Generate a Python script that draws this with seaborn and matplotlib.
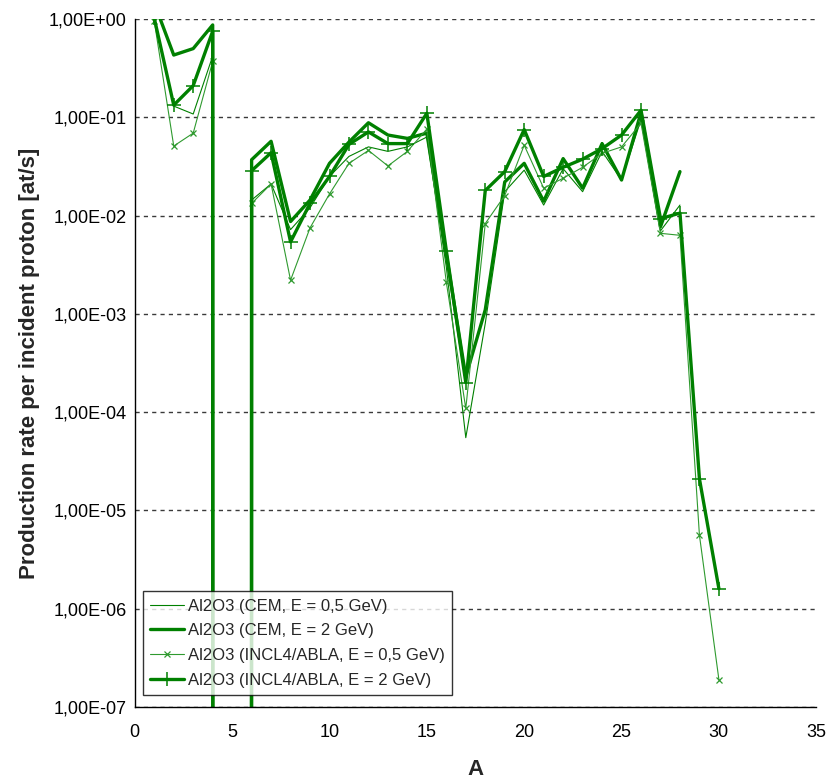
import numpy as np
import pandas as pd
import matplotlib
matplotlib.use("Agg")
import matplotlib.pyplot as plt
import seaborn as sns
from matplotlib.ticker import FixedLocator, FuncFormatter, NullLocator

# ---- data ----
A_cem = list(range(1, 29))
A_incl = list(range(1, 31))

cem_05 = [1.0, 0.13, 0.108, 0.42, 0, 0.0144, 0.021, 0.0072, 0.012, 0.025,
          0.040, 0.050, 0.045, 0.050, 0.063, 0.003, 5.5e-5, 0.0008, 0.0175, 0.029,
          0.0128, 0.030, 0.0175, 0.045, 0.023, 0.095, 0.007, 0.0128]
cem_2 = [1.45, 0.43, 0.50, 0.87, 0, 0.037, 0.057, 0.0087, 0.0144, 0.034,
         0.056, 0.088, 0.066, 0.061, 0.069, 0.004, 0.00023, 0.0011, 0.022, 0.034,
         0.014, 0.038, 0.019, 0.054, 0.023, 0.112, 0.0077, 0.028]
incl_05 = [0.95, 0.051, 0.069, 0.37, 0, 0.0133, 0.021, 0.0022, 0.0075, 0.0166,
           0.034, 0.046, 0.032, 0.045, 0.076, 0.0021, 0.000109, 0.0083, 0.016, 0.052,
           0.019, 0.024, 0.031, 0.043, 0.050, 0.087, 0.0066, 0.0063, 5.6e-6, 1.9e-7]
incl_2 = [1.02, 0.133, 0.21, 0.75, 0, 0.0286, 0.0436, 0.0054, 0.0133, 0.025,
          0.053, 0.071, 0.054, 0.054, 0.11, 0.0044, 0.0002, 0.018, 0.028, 0.075,
          0.025, 0.031, 0.0375, 0.048, 0.066, 0.118, 0.0093, 0.0106, 2.1e-5, 1.6e-6]

labels = ["Al2O3 (CEM, E = 0,5 GeV)",
          "Al2O3 (CEM, E = 2 GeV)",
          "Al2O3 (INCL4/ABLA, E = 0,5 GeV)",
          "Al2O3 (INCL4/ABLA, E = 2 GeV)"]

x_ticks = [0, 5, 10, 15, 20, 25, 30, 35]
y_ticks = [1e-7, 1e-6, 1e-5, 1e-4, 1e-3, 1e-2, 1e-1, 1e0]

# ---- style ----
sns.set_style("white")
plt.rcParams["font.family"] = ["Liberation Sans", "DejaVu Sans"]

fig = plt.figure(figsize=(8.27, 7.79), dpi=100)
ax = fig.add_axes([0.163, 0.0924, 0.824, 0.8832])

green = "#008000"
light = "#2f9a2f"

sns.lineplot(x=A_cem, y=cem_05, ax=ax, color=green, lw=0.8,
             estimator=None, sort=False, label=labels[0])
sns.lineplot(x=A_cem, y=cem_2, ax=ax, color=green, lw=2.4,
             estimator=None, sort=False, label=labels[1])
sns.lineplot(x=A_incl, y=incl_05, ax=ax, color=light, lw=0.8,
             marker="x", markersize=4.5, markeredgewidth=0.9,
             markeredgecolor=light,
             estimator=None, sort=False, label=labels[2])
sns.lineplot(x=A_incl, y=incl_2, ax=ax, color=green, lw=2.4,
             marker="+", markersize=10, markeredgewidth=1.1,
             markeredgecolor=green,
             estimator=None, sort=False, label=labels[3])

ax.set_yscale("log", nonpositive="clip")
ax.set_xlim(0, 35)
ax.set_ylim(1e-7, 1e0)

ax.xaxis.set_major_locator(FixedLocator(x_ticks))
ax.yaxis.set_major_locator(FixedLocator(y_ticks))
ax.yaxis.set_minor_locator(NullLocator())
ax.yaxis.set_major_formatter(
    FuncFormatter(lambda v, p: f"{v:.2E}".replace(".", ",")))

ax.tick_params(axis="both", which="major", direction="inout", length=7,
               width=1, color="black", labelsize=13, labelcolor="black")
ax.tick_params(axis="y", pad=2.5)
ax.tick_params(axis="x", pad=9)

ax.yaxis.grid(True, linestyle=(0, (3, 3)), color="#3a3a3a", lw=1.0)
ax.xaxis.grid(False)
ax.set_axisbelow(True)

for s in ["top", "right"]:
    ax.spines[s].set_visible(False)
for s in ["left", "bottom"]:
    ax.spines[s].set_color("black")
    ax.spines[s].set_linewidth(1.0)

ax.set_xlabel("A", fontsize=16, fontweight="bold", labelpad=13)
ax.set_ylabel("Production rate per incident proton [at/s]", fontsize=16,
              fontweight="bold", labelpad=6)

leg = ax.legend(loc="lower left", bbox_to_anchor=(0.0117, 0.0174), fontsize=12,
                frameon=True, fancybox=False, edgecolor="black",
                handlelength=2.0, handletextpad=0.25, borderpad=0.45,
                labelspacing=0.58, borderaxespad=0.0)
leg.get_frame().set_linewidth(1.0)

fig.savefig("out.png", dpi=100)
